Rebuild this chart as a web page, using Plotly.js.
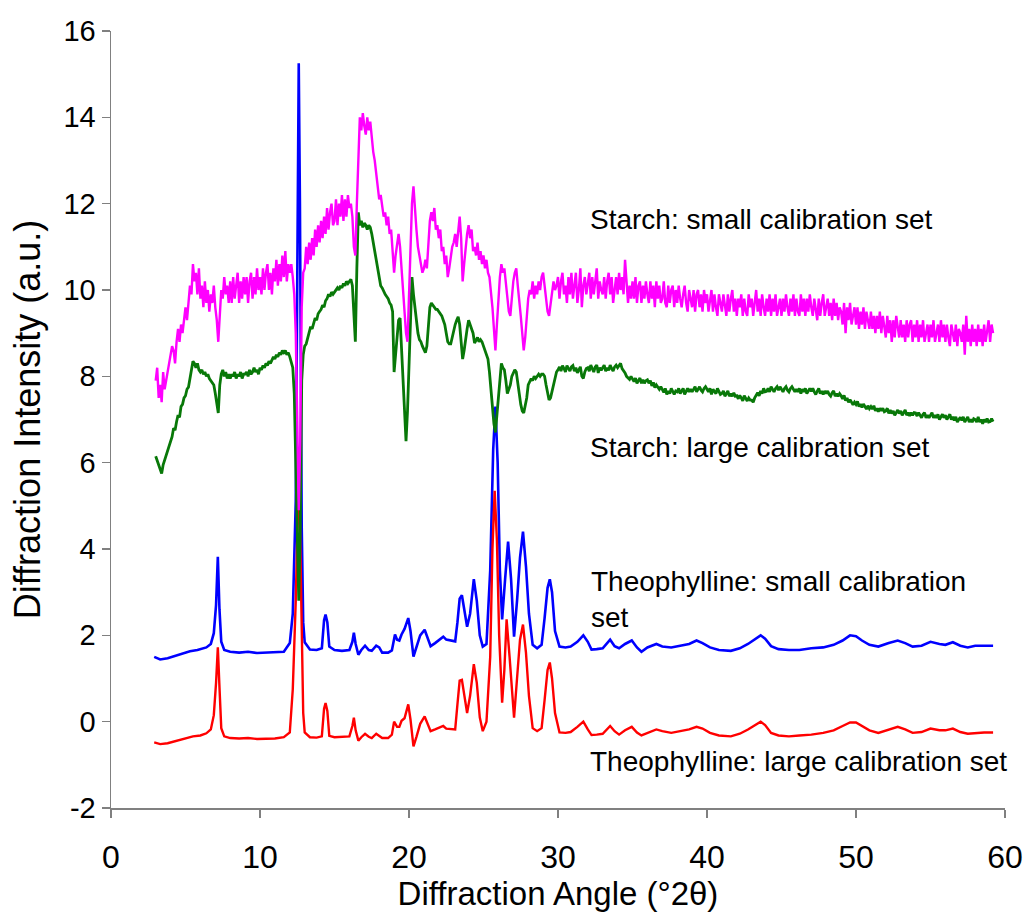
<!DOCTYPE html>
<html>
<head>
<meta charset="utf-8">
<script src="https://cdn.plot.ly/plotly-3.0.1.min.js"></script>
<style>html,body{margin:0;padding:0;background:#fff;}#chart{width:1026px;height:913px;}</style>
</head>
<body>
<div id="chart"></div>
<script>
// Starch curves: sampled every 0.1 degree starting at 3.0 degrees 2-theta (one row = one degree)
const starchStart = 3.0;
const starchStep = 0.1;

const starchSmall = [
  7.9, 8.2, 7.5, 7.8, 7.4, 8.1, 7.7, 7.9, 8.1, 8.3,
  8.4, 8.7, 8.6, 8.3, 8.8, 9.1, 8.8, 9.2, 9.0, 9.3,
  9.6, 9.3, 9.8, 10.1, 9.9, 10.6, 10.2, 10.4, 9.9, 10.5,
  9.8, 10.1, 9.6, 10.2, 9.7, 10.0, 9.5, 9.9, 9.7, 10.1,
  9.6, 9.3, 8.8, 9.6, 10.0, 9.8, 10.3, 9.9, 10.1, 9.7,
  10.2, 9.7, 10.3, 9.8, 10.1, 10.4, 9.7, 10.2, 9.8, 10.3,
  9.9, 10.3, 9.7, 10.2, 10.4, 9.8, 10.3, 9.9, 10.5, 10.0,
  10.3, 9.9, 10.5, 10.0, 10.4, 10.6, 10.0, 10.4, 9.9, 10.5,
  10.2, 10.7, 10.1, 10.6, 10.2, 10.8, 10.3, 10.9, 10.2, 10.6,
  10.4, 10.6, 10.3, 9.9, 9.0, 7.0, 4.9, 6.5, 9.6, 10.4,
  10.5, 11.0, 10.6, 11.1, 10.7, 11.2, 10.8, 11.4, 11.0, 11.5,
  11.1, 11.6, 11.2, 11.7, 11.3, 11.9, 11.4, 11.8, 12.0, 11.5,
  11.6, 12.1, 11.5, 12.0, 11.7, 12.2, 11.6, 12.1, 11.7, 12.2,
  11.9, 12.0, 11.7, 11.0, 10.8, 12.0, 13.2, 14.0, 13.7, 14.1,
  13.8, 13.6, 14.0, 13.7, 13.9, 13.5, 13.2, 13.0, 12.7, 12.5,
  12.1, 12.2, 11.9, 11.7, 11.8, 11.5, 11.7, 11.3, 11.4, 11.0,
  10.4, 10.8, 11.1, 11.3, 11.0, 10.5, 10.0, 9.6, 9.0, 8.8,
  9.8, 11.0, 12.0, 12.4, 11.8, 11.4, 11.0, 10.8, 10.6, 10.4,
  10.5, 10.7, 10.5, 11.0, 11.6, 11.8, 11.6, 11.9, 11.4, 11.5,
  11.2, 11.4, 10.9, 11.0, 10.6, 10.8, 10.3, 10.5, 10.8, 11.0,
  11.1, 11.3, 11.0, 11.4, 11.7, 11.2, 10.2, 10.6, 11.0, 11.3,
  11.5, 11.2, 11.4, 10.9, 11.0, 10.8, 11.1, 10.7, 10.9, 10.6,
  10.8, 10.5, 10.7, 10.4, 10.3, 10.0, 9.6, 9.1, 8.6, 9.2,
  9.8, 10.3, 10.6, 10.4, 10.5, 10.1, 9.8, 9.5, 9.4, 9.9,
  10.2, 10.4, 10.5, 10.1, 9.8, 9.4, 9.0, 8.6, 8.9, 9.4,
  9.8, 10.0, 9.9, 10.2, 9.8, 10.1, 9.9, 10.2, 10.0, 10.3,
  10.4, 10.1, 9.8, 9.5, 9.4, 9.7, 9.9, 10.2, 10.0, 10.1,
  10.3, 9.8, 10.2, 10.4, 9.9, 10.1, 9.7, 10.3, 9.9, 10.4,
  9.8, 10.2, 10.4, 9.7, 10.0, 10.5, 9.6, 10.1, 10.3, 9.9,
  10.1, 10.4, 9.8, 10.3, 9.9, 10.2, 10.5, 9.8, 10.2, 10.0,
  9.9, 10.3, 9.8, 10.2, 10.4, 9.9, 10.3, 9.7, 10.1, 10.3,
  9.9, 10.4, 10.0, 10.3, 9.9, 10.7, 10.2, 9.7, 10.1, 9.8,
  10.2, 9.8, 10.3, 9.7, 10.1, 10.2, 9.7, 10.1, 9.8, 10.2,
  9.9, 9.7, 10.2, 9.8, 10.1, 9.6, 10.2, 9.8, 10.1, 9.7,
  9.8, 10.2, 9.7, 9.6, 10.1, 9.7, 10.0, 10.1, 9.6, 10.0,
  9.7, 10.1, 9.8, 9.6, 9.9, 10.1, 9.7, 9.5, 10.0, 9.8,
  9.6, 10.0, 9.5, 9.9, 10.0, 9.6, 9.9, 9.5, 10.0, 9.7,
  9.9, 9.5, 9.8, 10.0, 9.5, 9.9, 9.6, 9.4, 9.9, 9.7,
  9.5, 9.9, 9.7, 9.4, 9.9, 9.5, 9.8, 10.0, 9.5, 9.8,
  9.4, 9.8, 9.6, 9.9, 9.4, 9.8, 9.5, 9.4, 9.9, 9.6,
  9.8, 9.4, 9.7, 10.0, 9.5, 9.8, 9.4, 9.9, 9.6, 9.4,
  9.8, 9.5, 9.9, 9.4, 9.8, 9.5, 9.9, 9.4, 9.6, 9.8,
  9.4, 9.8, 9.5, 9.9, 9.6, 9.4, 9.8, 9.5, 9.9, 9.4,
  9.8, 9.5, 9.4, 9.9, 9.5, 9.8, 9.4, 9.8, 9.5, 9.9,
  9.6, 9.4, 9.8, 9.5, 9.3, 9.8, 9.4, 9.7, 9.9, 9.4,
  9.6, 9.8, 9.4, 9.7, 9.3, 9.8, 9.4, 9.7, 9.3, 9.6,
  9.5, 9.2, 9.7, 9.0, 9.6, 9.3, 9.7, 9.2, 9.4, 9.6,
  9.2, 9.6, 9.1, 9.5, 9.2, 9.6, 9.1, 9.5, 9.3, 9.1,
  9.5, 9.1, 9.4, 9.0, 9.4, 9.1, 9.5, 9.0, 9.4, 9.2,
  8.9, 9.4, 9.0, 9.3, 8.8, 9.3, 8.9, 9.4, 9.1, 8.9,
  9.3, 8.9, 9.2, 8.8, 9.3, 8.9, 9.2, 9.3, 8.8, 9.2,
  8.9, 9.3, 8.8, 9.2, 8.9, 9.3, 8.8, 9.0, 9.2, 8.8,
  9.2, 8.9, 9.3, 8.8, 9.0, 9.2, 8.8, 9.3, 8.9, 9.2,
  8.8, 9.2, 8.9, 8.7, 9.2, 9.0, 8.8, 9.2, 8.7, 9.1,
  9.0, 8.8, 9.2, 8.5, 9.4, 8.8, 9.1, 8.7, 9.2, 8.8,
  9.1, 8.7, 9.2, 8.8, 9.1, 8.7, 9.2, 8.8, 9.0, 9.3,
  8.8, 9.2, 9.0
];

const starchLarge = [
  6.15, 6.05, 5.9, 5.8, 5.75, 5.95, 6.05, 6.15, 6.25, 6.4,
  6.5, 6.6, 6.8, 6.75, 6.95, 7.1, 7.05, 7.3, 7.35, 7.5,
  7.55, 7.7, 7.75, 7.95, 8.15, 8.35, 8.3, 8.2, 8.3, 8.15,
  8.1, 8.15, 8.05, 8.1, 8.0, 8.05, 7.95, 7.9, 7.85, 7.8,
  7.6, 7.35, 7.15, 7.8, 8.05, 8.15, 8.0, 8.1, 7.95, 8.05,
  7.95, 8.05, 8.0, 8.1, 7.95, 8.05, 8.0, 8.1, 7.95, 8.05,
  8.05, 8.1, 8.0, 8.15, 8.05, 8.1, 8.2, 8.1, 8.15, 8.05,
  8.2, 8.15, 8.25, 8.2, 8.3, 8.25, 8.35, 8.3, 8.4, 8.45,
  8.4, 8.5, 8.45, 8.55, 8.5, 8.6, 8.55, 8.6, 8.5, 8.55,
  8.45, 8.35, 8.2, 7.6, 6.0, 4.0, 2.8, 4.5, 7.9, 8.5,
  8.7, 8.75, 8.9, 9.0, 9.15, 9.1, 9.25, 9.35, 9.3, 9.45,
  9.5, 9.55, 9.65, 9.6, 9.75, 9.8, 9.9, 9.85, 9.95, 9.9,
  9.95, 10.0, 10.05, 10.0, 10.1, 10.05, 10.15, 10.1, 10.2, 10.15,
  10.2, 10.25, 10.1, 9.4, 8.8, 10.5, 11.8, 11.5, 11.6, 11.45,
  11.55, 11.5, 11.4, 11.5, 11.45, 11.3, 11.1, 10.9, 10.7, 10.4,
  10.2, 10.1, 10.05, 9.95, 9.9, 9.85, 9.8, 9.7, 9.65, 9.5,
  8.1, 8.5, 9.0, 9.3, 9.35, 8.6, 7.9, 7.3, 6.5, 7.2,
  8.2, 9.3, 10.3, 9.9, 9.6, 9.2, 9.0, 8.85, 8.8, 8.7,
  8.6, 8.55, 8.7, 9.2, 9.6, 9.7, 9.65, 9.6, 9.55, 9.55,
  9.5, 9.45, 9.4, 9.3, 9.2, 9.0, 8.8, 8.75, 8.75, 8.9,
  9.1, 9.2, 9.3, 9.38, 9.2, 8.8, 8.4, 8.6, 8.9, 9.1,
  9.3, 9.2, 9.15, 9.0, 8.77, 8.85, 8.9, 8.8, 8.85, 8.8,
  8.7, 8.6, 8.55, 8.4, 8.1, 7.7, 7.2, 6.9, 6.7, 7.1,
  7.6, 8.0, 8.3, 8.2, 8.15, 7.9, 7.6, 7.7, 7.8, 8.0,
  8.1, 8.15, 8.1, 7.9, 7.6, 7.35, 7.2, 7.15, 7.3, 7.5,
  7.8, 7.9, 7.95, 7.9, 8.0, 7.95, 8.0, 8.05, 8.0, 8.05,
  8.05, 8.0, 7.8, 7.6, 7.45, 7.5, 7.65, 7.8, 8.0, 8.1,
  8.15, 8.22, 8.12, 8.25, 8.18, 8.1, 8.25, 8.2, 8.12, 8.22,
  8.25, 8.12, 8.2, 8.08, 8.15, 8.22, 8.0, 7.95, 8.1, 8.18,
  8.2, 8.12, 8.26, 8.18, 8.1, 8.22, 8.26, 8.08, 8.2, 8.14,
  8.22, 8.26, 8.12, 8.2, 8.14, 8.26, 8.18, 8.12, 8.22, 8.26,
  8.2, 8.25, 8.3, 8.18, 8.14, 8.08, 8.0, 7.95, 7.93, 8.0,
  7.95, 7.88, 7.96, 7.84, 7.9, 7.96, 7.84, 7.92, 7.84, 7.9,
  7.92, 7.84, 7.9, 7.78, 7.86, 7.74, 7.8, 7.74, 7.7, 7.76,
  7.7, 7.63, 7.72, 7.58, 7.66, 7.6, 7.72, 7.64, 7.58, 7.66,
  7.64, 7.72, 7.6, 7.66, 7.72, 7.58, 7.66, 7.72, 7.64, 7.7,
  7.64, 7.72, 7.76, 7.64, 7.7, 7.76, 7.68, 7.64, 7.72, 7.76,
  7.7, 7.64, 7.72, 7.58, 7.7, 7.64, 7.6, 7.72, 7.64, 7.58,
  7.6, 7.66, 7.54, 7.62, 7.66, 7.54, 7.6, 7.54, 7.62, 7.54,
  7.55, 7.48, 7.56, 7.5, 7.43, 7.55, 7.5, 7.43, 7.5, 7.45,
  7.45, 7.4, 7.5, 7.55, 7.62, 7.55, 7.66, 7.6, 7.72, 7.64,
  7.65, 7.72, 7.64, 7.76, 7.7, 7.64, 7.72, 7.76, 7.68, 7.76,
  7.7, 7.64, 7.72, 7.76, 7.68, 7.64, 7.72, 7.76, 7.7, 7.64,
  7.7, 7.64, 7.72, 7.6, 7.7, 7.64, 7.72, 7.6, 7.66, 7.72,
  7.65, 7.72, 7.64, 7.58, 7.66, 7.72, 7.6, 7.66, 7.58, 7.66,
  7.6, 7.66, 7.58, 7.54, 7.62, 7.66, 7.54, 7.6, 7.54, 7.6,
  7.55, 7.48, 7.56, 7.44, 7.5, 7.4, 7.46, 7.38, 7.34, 7.4,
  7.35, 7.42, 7.3, 7.36, 7.28, 7.36, 7.3, 7.24, 7.32, 7.25,
  7.3, 7.24, 7.32, 7.2, 7.26, 7.18, 7.26, 7.2, 7.26, 7.18,
  7.2, 7.26, 7.14, 7.22, 7.14, 7.2, 7.1, 7.16, 7.22, 7.14,
  7.2, 7.1, 7.16, 7.22, 7.1, 7.16, 7.08, 7.16, 7.1, 7.16,
  7.15, 7.08, 7.16, 7.1, 7.04, 7.12, 7.16, 7.04, 7.1, 7.04,
  7.1, 7.16, 7.04, 7.1, 7.04, 7.12, 7.0, 7.06, 7.12, 7.04,
  7.1, 7.0, 7.06, 7.12, 7.0, 7.06, 6.98, 7.06, 6.94, 7.0,
  7.05, 6.98, 7.06, 6.94, 7.0, 7.06, 6.94, 7.0, 6.94, 7.02,
  7.0, 6.94, 7.06, 6.94, 7.0, 6.9, 7.0, 6.94, 7.02, 6.94,
  6.95, 7.02, 6.95
];

// Theophylline curves: angle / intensity pairs
const theoSmallX = [2.9,3.3,3.8,4.2,4.8,5.3,5.8,6.4,6.7,6.9,7.05,7.17,7.28,7.4,7.6,8.0,8.6,9.2,9.8,10.4,11.0,11.6,12.0,12.2,12.4,12.52,12.6,12.68,12.8,12.9,13.0,13.35,13.8,14.15,14.3,14.4,14.52,14.65,15.0,15.5,16.0,16.2,16.3,16.42,16.6,16.8,17.05,17.3,17.5,17.8,18.0,18.2,18.6,18.85,19.06,19.2,19.35,19.5,19.7,19.95,20.1,20.3,20.5,20.75,21.05,21.25,21.45,21.75,22.0,22.3,22.5,22.75,23.1,23.25,23.4,23.55,23.7,23.9,24.1,24.35,24.55,24.75,24.95,25.2,25.45,25.65,25.8,25.95,26.1,26.25,26.45,26.65,26.85,27.05,27.25,27.45,27.65,27.85,28.05,28.3,28.6,28.9,29.1,29.3,29.45,29.6,29.8,30.1,30.5,30.85,31.3,31.7,32.0,32.25,32.6,33.0,33.5,33.8,34.1,34.5,34.95,35.3,35.6,36.0,36.6,37.0,37.6,38.2,38.8,39.3,39.7,40.2,40.8,41.6,42.2,42.75,43.2,43.6,43.9,44.3,44.8,45.5,46.2,47.0,47.8,48.5,49.1,49.6,50.0,50.4,50.9,51.5,52.2,52.8,53.3,53.8,54.4,55.0,55.6,56.0,56.5,57.0,57.5,58.0,58.6,59.2];
const theoSmallY = [1.50,1.44,1.47,1.51,1.57,1.63,1.66,1.72,1.80,2.05,2.7,3.82,2.6,1.85,1.66,1.62,1.60,1.62,1.59,1.60,1.60,1.62,1.82,2.5,5.1,12.0,15.25,12.0,4.5,2.3,1.84,1.67,1.66,1.70,2.35,2.48,2.3,1.74,1.66,1.64,1.66,1.85,2.06,1.8,1.55,1.66,1.76,1.66,1.64,1.76,1.72,1.60,1.60,1.65,2.02,1.90,1.88,2.02,2.15,2.40,2.1,1.51,1.72,2.0,2.13,1.95,1.75,1.82,1.88,1.97,1.90,1.88,1.86,2.3,2.85,2.93,2.6,2.2,2.5,3.3,2.8,2.0,1.74,1.8,3.5,6.3,7.3,6.0,3.5,2.37,3.3,4.17,3.3,1.97,2.8,3.8,4.4,3.6,2.5,1.78,1.70,1.78,2.4,3.1,3.3,3.0,2.1,1.74,1.72,1.74,1.85,2.0,1.85,1.67,1.68,1.70,1.90,1.75,1.70,1.80,1.88,1.72,1.62,1.72,1.80,1.74,1.72,1.76,1.80,1.88,1.82,1.72,1.66,1.64,1.70,1.80,1.90,2.0,1.92,1.75,1.68,1.66,1.66,1.70,1.72,1.78,1.88,2.0,1.98,1.88,1.78,1.74,1.82,1.88,1.82,1.74,1.76,1.85,1.80,1.78,1.84,1.76,1.72,1.76,1.76,1.76];

const theoLargeX = [2.9,3.3,3.8,4.2,4.8,5.5,6.0,6.4,6.7,6.9,7.05,7.17,7.28,7.4,7.6,8.0,8.6,9.2,9.8,10.4,11.0,11.6,12.0,12.2,12.4,12.52,12.6,12.68,12.8,12.9,13.0,13.35,13.8,14.15,14.3,14.4,14.52,14.65,15.0,15.5,16.0,16.2,16.3,16.42,16.6,16.8,17.05,17.3,17.5,17.8,18.0,18.2,18.6,18.85,19.0,19.2,19.35,19.5,19.7,19.95,20.1,20.3,20.5,20.75,21.05,21.25,21.45,21.75,22.0,22.3,22.5,22.75,23.1,23.25,23.4,23.55,23.7,23.9,24.1,24.35,24.55,24.75,24.95,25.2,25.45,25.6,25.75,25.9,26.05,26.25,26.4,26.55,26.75,27.05,27.25,27.45,27.65,27.85,28.05,28.3,28.6,28.9,29.1,29.3,29.45,29.6,29.8,30.1,30.5,30.85,31.3,31.7,32.0,32.25,32.6,33.0,33.5,33.8,34.1,34.5,34.95,35.3,35.6,36.0,36.6,37.0,37.6,38.2,38.8,39.3,39.7,40.2,40.8,41.6,42.2,42.75,43.2,43.6,43.9,44.3,44.8,45.5,46.2,47.0,47.8,48.5,49.1,49.6,50.0,50.4,50.9,51.5,52.2,52.8,53.3,53.8,54.4,55.0,55.6,56.0,56.5,57.0,57.5,58.0,58.6,59.2];
const theoLargeY = [-0.48,-0.52,-0.50,-0.46,-0.40,-0.34,-0.32,-0.27,-0.18,0.15,0.9,1.72,0.8,-0.15,-0.34,-0.38,-0.39,-0.38,-0.40,-0.39,-0.39,-0.36,-0.25,0.75,2.8,4.6,4.9,4.6,1.5,0.2,-0.25,-0.36,-0.37,-0.34,0.30,0.43,0.25,-0.33,-0.36,-0.35,-0.34,-0.1,0.09,-0.2,-0.44,-0.36,-0.28,-0.35,-0.38,-0.28,-0.32,-0.38,-0.38,-0.3,0.0,-0.12,-0.12,0.02,0.08,0.40,0.05,-0.57,-0.35,-0.05,0.12,-0.05,-0.22,-0.18,-0.14,-0.10,-0.16,-0.17,-0.18,0.4,0.95,0.97,0.6,0.2,0.6,1.33,0.9,0.1,-0.22,0.0,1.5,4.0,5.35,4.2,2.0,0.44,1.2,2.37,1.5,0.09,1.0,1.9,2.25,1.6,0.6,-0.15,-0.22,-0.15,0.5,1.2,1.37,1.0,0.2,-0.25,-0.26,-0.24,-0.12,0.0,-0.18,-0.31,-0.30,-0.28,-0.10,-0.22,-0.30,-0.20,-0.12,-0.25,-0.32,-0.26,-0.18,-0.22,-0.26,-0.22,-0.18,-0.12,-0.16,-0.26,-0.32,-0.34,-0.28,-0.18,-0.08,0.0,-0.08,-0.26,-0.32,-0.34,-0.32,-0.30,-0.26,-0.20,-0.10,-0.02,-0.02,-0.10,-0.20,-0.26,-0.18,-0.12,-0.18,-0.26,-0.24,-0.16,-0.20,-0.20,-0.16,-0.24,-0.28,-0.26,-0.25,-0.25];

const xTicks = [0, 10, 20, 30, 40, 50, 60];
const yTicks = [-2, 0, 2, 4, 6, 8, 10, 12, 14, 16];

const labels = [
  {text: 'Starch: small calibration set', x: 32.0, y: 11.63},
  {text: 'Starch: large calibration set', x: 32.0, y: 6.35},
  {text: 'Theophylline: small calibration<br>set', x: 32.05, y: 2.83},
  {text: 'Theophylline: large calibration set', x: 32.0, y: -0.92}
];

const fam = '"Liberation Sans", Arial, sans-serif';

const traces = [
  {type: 'scatter', mode: 'lines', name: 'Theophylline small', x: theoSmallX, y: theoSmallY,
   line: {color: '#0000FF', width: 2.6}},
  {type: 'scatter', mode: 'lines', name: 'Theophylline large', x: theoLargeX, y: theoLargeY,
   line: {color: '#FF0000', width: 2.4}},
  {type: 'scatter', mode: 'lines', name: 'Starch large', x0: starchStart, dx: starchStep, y: starchLarge,
   line: {color: '#087808', width: 2.8}},
  {type: 'scatter', mode: 'lines', name: 'Starch small', x0: starchStart, dx: starchStep, y: starchSmall,
   line: {color: '#FF00FF', width: 2.4}}
];

const layout = {
  width: 1026, height: 913,
  margin: {l: 111, r: 21, t: 31, b: 105},
  paper_bgcolor: '#ffffff', plot_bgcolor: '#ffffff',
  showlegend: false,
  font: {family: fam, color: '#000000'},
  xaxis: {
    range: [0, 60], tickvals: xTicks, ticktext: xTicks.map(String),
    showgrid: false, zeroline: false, showline: true, linecolor: '#808080', linewidth: 1.5,
    ticks: 'outside', ticklen: 8, tickcolor: '#808080', tickwidth: 1.5,
    ticklabelstandoff: 12,
    tickfont: {family: fam, size: 32, color: '#000'},
    title: {text: 'Diffraction Angle (°2θ)', font: {family: fam, size: 33, color: '#000'}, standoff: 4}
  },
  yaxis: {
    range: [-2, 16], tickvals: yTicks, ticktext: yTicks.map(String),
    showgrid: false, zeroline: false, showline: true, linecolor: '#808080', linewidth: 1.5,
    ticks: 'outside', ticklen: 8, tickcolor: '#808080', tickwidth: 1.5,
    tickfont: {family: fam, size: 29, color: '#000'},
    title: {text: 'Diffraction Intensity (a.u.)', font: {family: fam, size: 36, color: '#000'}, standoff: 12}
  },
  annotations: labels.map(l => ({
    text: l.text, x: l.x, y: l.y, xref: 'x', yref: 'y',
    xanchor: 'left', yanchor: 'middle', align: 'left', showarrow: false,
    font: {family: fam, size: 28, color: '#000'}
  }))
};

Plotly.newPlot('chart', traces, layout, {staticPlot: true, displayModeBar: false});
</script>
</body>
</html>
